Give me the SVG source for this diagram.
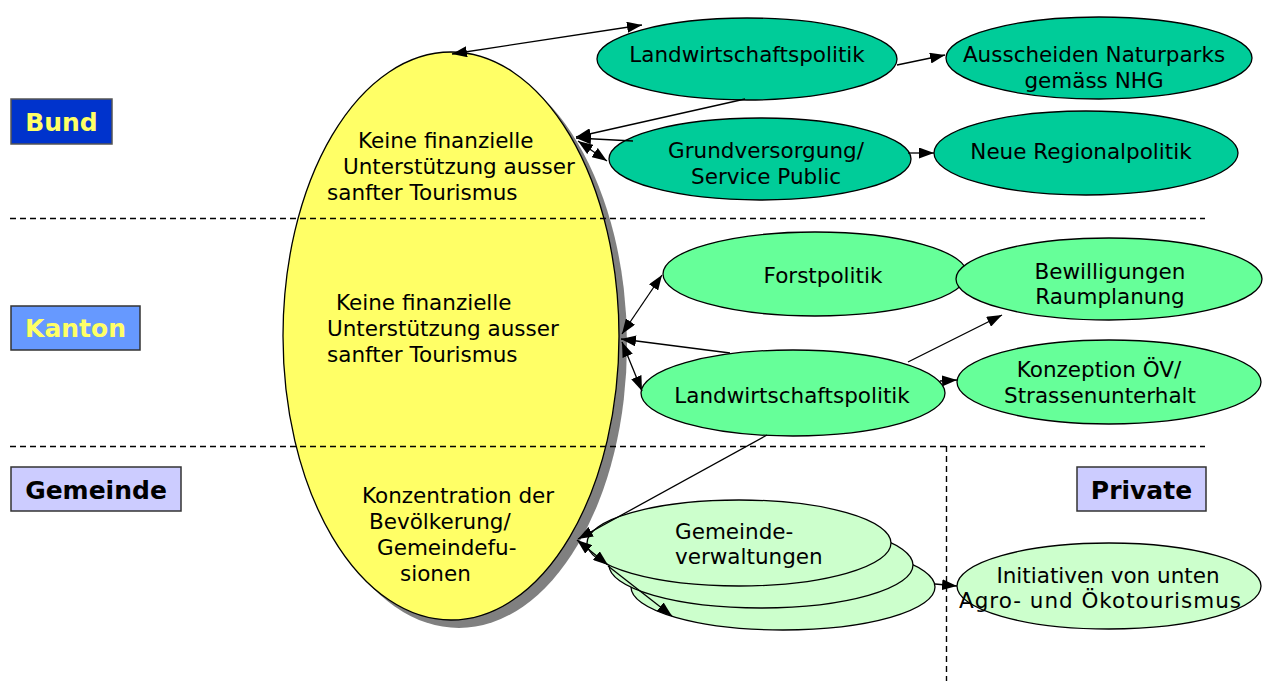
<svg xmlns="http://www.w3.org/2000/svg" width="1265" height="681" viewBox="0 0 1265 681">
<style>
.t{font-family:"DejaVu Sans",Verdana,sans-serif;font-size:21.5px;fill:#000}
.c{text-anchor:middle}
.lb{font-family:"DejaVu Sans",Verdana,sans-serif;font-size:25px;font-weight:bold;text-anchor:middle}
.e{stroke:#000;stroke-width:1.3}
.b{fill:#00cc99}.k{fill:#66ff99}.g{fill:#ccffcc}
.dash{stroke:#000;stroke-width:1.4;stroke-dasharray:6,4;fill:none}
.cn line{stroke:#000;stroke-width:1.3}
</style>
<defs>
<marker id="ah" viewBox="0 0 15 11" refX="15" refY="5.5" markerWidth="15" markerHeight="11" markerUnits="userSpaceOnUse" orient="auto-start-reverse">
<path d="M0,0 L15,5.5 L0,11 z" fill="#000"/>
</marker>
</defs>
<rect width="1265" height="681" fill="#fff"/>

<g id="level-bund"><rect x="11" y="99" width="101" height="45" fill="#0033cc" stroke="#555" stroke-width="1.5"/><text class="lb" x="61.5" y="131" fill="#ffff66">Bund</text></g>
<g id="level-kanton"><rect x="11" y="306" width="129" height="44" fill="#6699ff" stroke="#333" stroke-width="1.5"/><text class="lb" x="75.5" y="337" fill="#ffff66">Kanton</text></g>
<g id="level-gemeinde"><rect x="11" y="467" width="170" height="44" fill="#ccccff" stroke="#333" stroke-width="1.5"/><text class="lb" x="96" y="499" fill="#000">Gemeinde</text></g>
<g id="level-private"><rect x="1077" y="467" width="129" height="44" fill="#ccccff" stroke="#333" stroke-width="1.5"/><text class="lb" x="1141.5" y="499" fill="#000">Private</text></g>

<g id="center">
<ellipse cx="459" cy="344" rx="168" ry="284" fill="#808080"/>
<ellipse cx="451" cy="336" rx="168" ry="284" fill="#ffff66" class="e"/>
<text class="t" x="358" y="148">Keine finanzielle</text>
<text class="t" x="343" y="174">Unterstützung ausser</text>
<text class="t" x="327" y="200">sanfter Tourismus</text>
<text class="t" x="336" y="310">Keine finanzielle</text>
<text class="t" x="327" y="336">Unterstützung ausser</text>
<text class="t" x="327" y="362">sanfter Tourismus</text>
<text class="t" x="362" y="503">Konzentration der</text>
<text class="t" x="369" y="529">Bevölkerung/</text>
<text class="t" x="377" y="555">Gemeindefu-</text>
<text class="t" x="400" y="581">sionen</text>
</g>

<g id="dividers">
<line class="dash" x1="10" y1="218.5" x2="1205" y2="218.5"/>
<line class="dash" x1="10" y1="446.5" x2="1205" y2="446.5"/>
<line class="dash" x1="946.5" y1="446" x2="946.5" y2="681"/>
</g>

<g id="bund-lw"><ellipse cx="747" cy="59" rx="150" ry="41" class="e b"/><text class="t c" x="747" y="62">Landwirtschaftspolitik</text></g>
<g id="naturparks"><ellipse cx="1099" cy="58" rx="153" ry="41" class="e b"/><text class="t c" x="1094" y="62">Ausscheiden Naturparks</text><text class="t c" x="1094" y="88">gemäss NHG</text></g>
<g id="grundversorgung"><ellipse cx="760" cy="159" rx="151" ry="41" class="e b"/><text class="t c" x="766" y="158">Grundversorgung/</text><text class="t c" x="766" y="184">Service Public</text></g>
<g id="regionalpolitik"><ellipse cx="1086" cy="153" rx="152" ry="42" class="e b"/><text class="t c" x="1081" y="159">Neue Regionalpolitik</text></g>

<g id="forst"><ellipse cx="815" cy="274" rx="152" ry="42" class="e k"/><text class="t c" x="823" y="283">Forstpolitik</text></g>
<g id="bewilligungen"><ellipse cx="1109" cy="279" rx="153" ry="41" class="e k"/><text class="t c" x="1110" y="279">Bewilligungen</text><text class="t c" x="1110" y="304">Raumplanung</text></g>
<g id="kanton-lw"><ellipse cx="793" cy="393" rx="152" ry="43" class="e k"/><text class="t c" x="792" y="403">Landwirtschaftspolitik</text></g>
<g id="konzeption"><ellipse cx="1109" cy="382" rx="152" ry="42" class="e k"/><text class="t c" x="1099" y="377">Konzeption ÖV/</text><text class="t c" x="1100" y="403">Strassenunterhalt</text></g>

<g id="gemeindeverwaltungen">
<ellipse cx="783" cy="587" rx="152" ry="43" class="e g"/>
<ellipse cx="761" cy="565" rx="152" ry="43" class="e g"/>
<ellipse cx="739" cy="543" rx="152" ry="43" class="e g"/>
<text class="t" x="675" y="539">Gemeinde-</text>
<text class="t" x="675" y="564">verwaltungen</text>
</g>
<g id="initiativen"><ellipse cx="1109" cy="586" rx="152" ry="43" class="e g"/><text class="t c" x="1108" y="583">Initiativen von unten</text><text class="t c" x="1100" y="608" textLength="282" lengthAdjust="spacing">Agro- und Ökotourismus</text></g>

<g id="connectors" class="cn">
<line x1="452" y1="54" x2="642" y2="25" marker-start="url(#ah)" marker-end="url(#ah)"/>
<line x1="745" y1="99" x2="576" y2="137" marker-end="url(#ah)"/>
<line x1="633" y1="141" x2="576" y2="138" marker-end="url(#ah)"/>
<line x1="578" y1="141" x2="607" y2="161" marker-start="url(#ah)" marker-end="url(#ah)"/>
<line x1="897" y1="65" x2="945" y2="55" marker-end="url(#ah)"/>
<line x1="908" y1="153" x2="934" y2="153" marker-end="url(#ah)"/>
<line x1="622" y1="334" x2="662" y2="275" marker-start="url(#ah)" marker-end="url(#ah)"/>
<line x1="730" y1="353" x2="621" y2="339" marker-end="url(#ah)"/>
<line x1="622" y1="342" x2="642" y2="391" marker-start="url(#ah)" marker-end="url(#ah)"/>
<line x1="940" y1="381" x2="957" y2="380" marker-end="url(#ah)"/>
<line x1="908" y1="362" x2="1002" y2="315" marker-end="url(#ah)"/>
<line x1="767" y1="435" x2="578" y2="539" marker-end="url(#ah)"/>
<line x1="577" y1="540" x2="608" y2="565" marker-start="url(#ah)" marker-end="url(#ah)"/>
<line x1="608" y1="566" x2="672" y2="616" marker-end="url(#ah)"/>
<line x1="935" y1="584" x2="957" y2="586" marker-end="url(#ah)"/>
</g>
</svg>
